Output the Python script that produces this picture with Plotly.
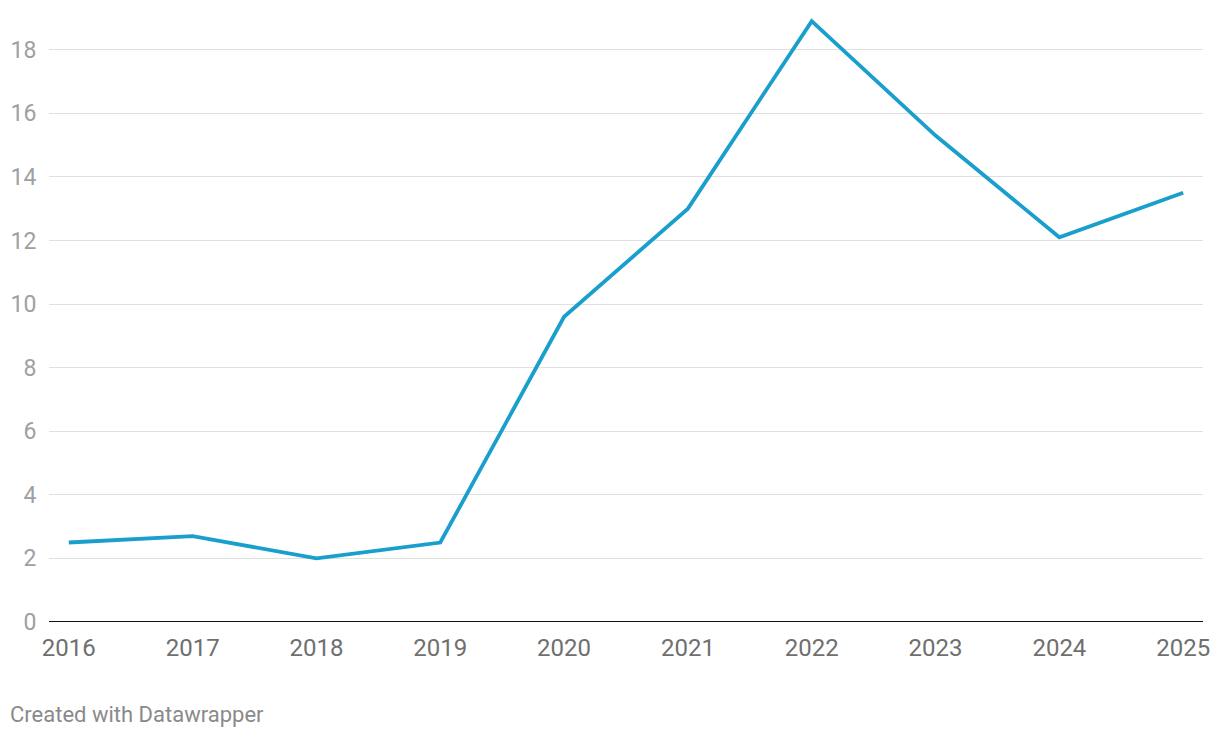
import plotly.graph_objects as go

years = [2016, 2017, 2018, 2019, 2020, 2021, 2022, 2023, 2024, 2025]
values = [2.5, 2.7, 2.0, 2.5, 9.6, 13.0, 18.9, 15.3, 12.1, 13.5]
y_ticks = [0, 2, 4, 6, 8, 10, 12, 14, 16, 18]

fig = go.Figure()
fig.add_trace(go.Scatter(
    x=years, y=values, mode="lines",
    line=dict(color="#1a9fcd", width=3.8),
    hoverinfo="skip", showlegend=False,
))

fig.update_layout(
    width=1220, height=738,
    margin=dict(l=49, r=17, t=2, b=116),
    paper_bgcolor="white", plot_bgcolor="white",
    font=dict(family="Roboto", size=20),
    xaxis=dict(
        range=[2015.84, 2025.16],
        tickvals=years, ticktext=[str(y) for y in years],
        showgrid=False, zeroline=False, showline=False,
        ticks="outside", ticklen=4, tickcolor="rgba(0,0,0,0)",
        tickfont=dict(color="#6f6f6f", size=24, family="Roboto"),
    ),
    yaxis=dict(
        range=[0, 19.5],
        tickvals=y_ticks,
        showgrid=True, gridcolor="#e0e0e0", gridwidth=1,
        zeroline=False, showline=False,
        ticks="outside", ticklen=7, tickcolor="rgba(0,0,0,0)",
        tickfont=dict(color="#a0a0a0", size=23, family="Roboto"),
    ),
    shapes=[dict(type="line", xref="paper", yref="y", x0=0, x1=1, y0=0, y1=0,
                 line=dict(color="#111111", width=2))],
    annotations=[dict(text="Created with Datawrapper", xref="paper", yref="paper",
                      x=-41/1154, y=-92/620, xanchor="left", yanchor="middle",
                      showarrow=False, font=dict(color="#8a8a8a", size=22, family="Roboto"))],
)

fig.write_html("out.html", config={"displayModeBar": False},
               post_script="document.body.style.margin='0px';")
